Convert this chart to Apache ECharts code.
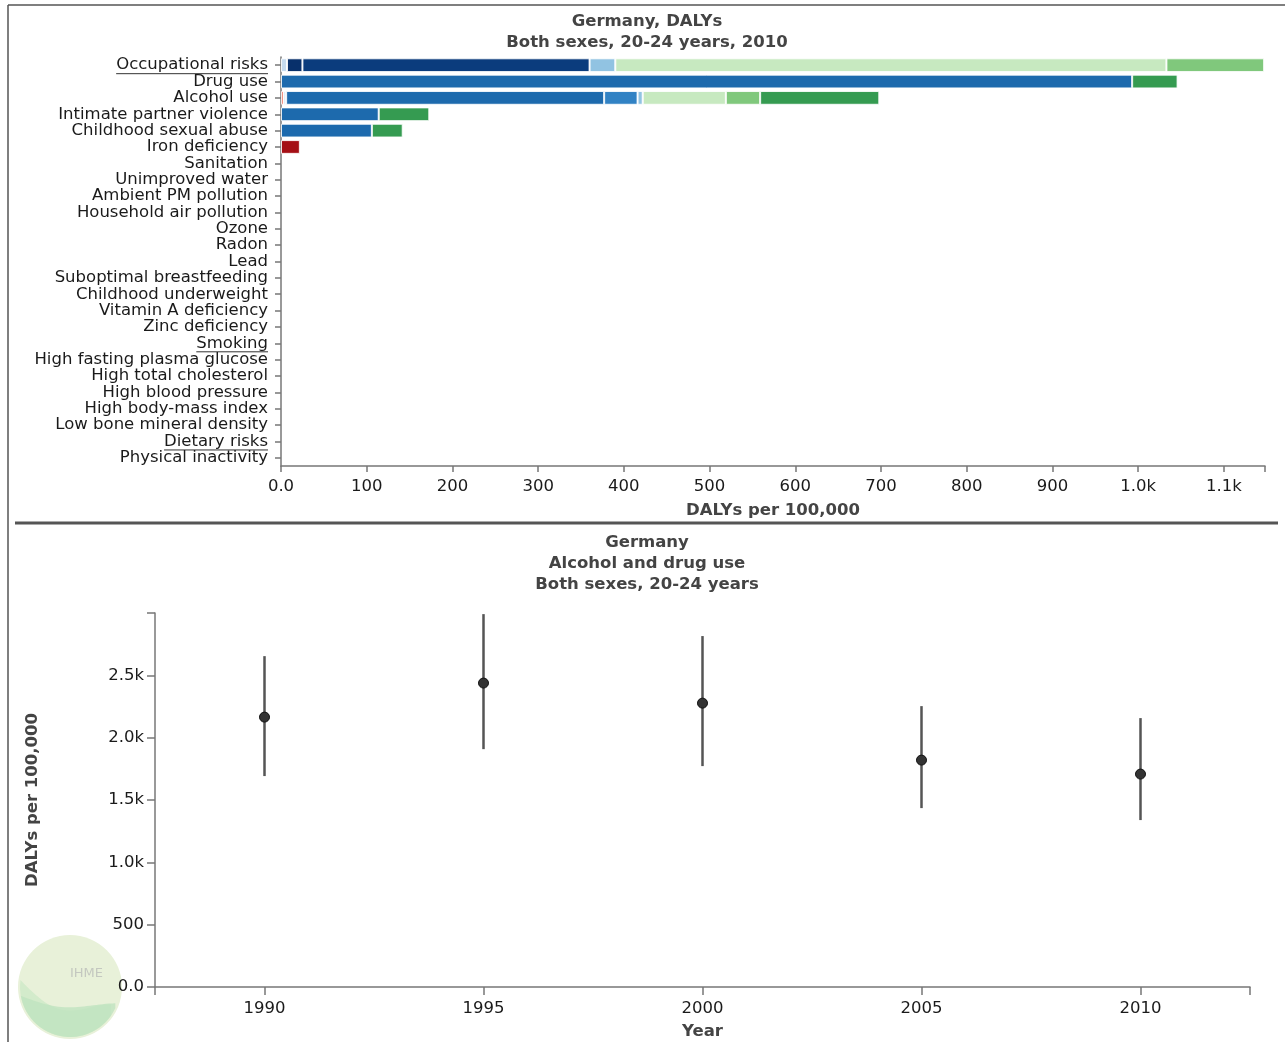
<!DOCTYPE html>
<html><head><meta charset="utf-8">
<script src="https://cdn.jsdelivr.net/npm/echarts@6/dist/echarts.min.js"></script>
<style>html,body{margin:0;padding:0;background:#fff}#c{width:1285px;height:1042px}</style>
</head><body><div id="c"></div>
<script>
// ---- data ----
const categories = ["Occupational risks","Drug use","Alcohol use","Intimate partner violence","Childhood sexual abuse","Iron deficiency","Sanitation","Unimproved water","Ambient PM pollution","Household air pollution","Ozone","Radon","Lead","Suboptimal breastfeeding","Childhood underweight","Vitamin A deficiency","Zinc deficiency","Smoking","High fasting plasma glucose","High total cholesterol","High blood pressure","High body-mass index","Low bone mineral density","Dietary risks","Physical inactivity"];
const underlined = ["Occupational risks","Smoking","Dietary risks"];
const occupationalSegs = [7, 18, 335, 30, 643, 114];
const drugSegs = [993, 53];
const alcoholSegs = [3, 3, 371, 39, 6, 97, 40, 139];
const ipvSegs = [114, 59];
const csaSegs = [106, 36];
const ironSegs = [22];
const xTickMax = 1148;

const years = [1990, 1995, 2000, 2005, 2010];
const meanVals = [2165, 2438, 2277, 1820, 1708];
const lowerVals = [1692, 1908, 1772, 1435, 1339];
const upperVals = [2654, 2991, 2815, 2253, 2157];

// ---- styles ----
const occColors = ["#c6dbef","#08306b","#0b3c7d","#91c3e2","#c7e9c0","#80c87c"];
const drugColors = ["#1d6aad","#359b51"];
const alcColors = ["#e8543f","#c6dbef","#1d6aad","#3182c4","#91c3e2","#c7e9c0","#80c87c","#359b51"];
const ipvColors = ["#1d6aad","#359b51"];
const csaColors = ["#1d6aad","#359b51"];
const ironColors = ["#a50f15"];

const segsByCat = {};
segsByCat["Occupational risks"] = [occupationalSegs, occColors];
segsByCat["Drug use"] = [drugSegs, drugColors];
segsByCat["Alcohol use"] = [alcoholSegs, alcColors];
segsByCat["Intimate partner violence"] = [ipvSegs, ipvColors];
segsByCat["Childhood sexual abuse"] = [csaSegs, csaColors];
segsByCat["Iron deficiency"] = [ironSegs, ironColors];

const FONT = "DejaVu Sans";
const FS = 16.5;
const axisColor = "#777";
const textColor = "#1a1a1a";

let maxSegs = 0;
Object.values(segsByCat).forEach(v => { maxSegs = Math.max(maxSegs, v[0].length); });

const barSeries = [];
for (let j = 0; j < maxSegs; j++) {
  barSeries.push({
    type: 'bar', xAxisIndex: 0, yAxisIndex: 0, stack: 'total',
    barCategoryGap: '16%',
    silent: true,
    data: categories.map(c => {
      const s = segsByCat[c];
      if (!s || j >= s[0].length) return null;
      return { value: s[0][j], itemStyle: { color: s[1][j], borderColor: 'rgba(255,255,255,0.85)', borderWidth: 1 } };
    })
  });
}

function fmtK(v) {
  if (v === 0) return '0.0';
  if (v >= 1000) return (v / 1000).toFixed(1) + 'k';
  return String(v);
}

// logo shapes (decoration)
function logoWave(cx, cy, r, amp, aStart, aEnd) {
  const pts = [];
  const a0 = Math.PI * aStart / 180, a1 = Math.PI * aEnd / 180;
  const p0 = [cx + r * Math.cos(a0), cy + r * Math.sin(a0)];
  const p1 = [cx + r * Math.cos(a1), cy + r * Math.sin(a1)];
  const n = 30;
  for (let i = 0; i <= n; i++) {
    const t = i / n;
    const x = p0[0] + (p1[0] - p0[0]) * t;
    const y = p0[1] + (p1[1] - p0[1]) * t + amp * Math.sin(Math.PI * t * 1.3);
    pts.push([x, y]);
  }
  for (let i = 0; i <= n; i++) {
    const a = a1 + (a0 + 2 * Math.PI * (a0 < a1 ? 1 : 0) - a1) * (i / n);
    pts.push([cx + r * Math.cos(a), cy + r * Math.sin(a)]);
  }
  return pts;
}

const chart = echarts.init(document.getElementById('c'), null, { renderer: 'canvas' });

const option = {
  animation: false,
  textStyle: { fontFamily: FONT },
  title: [
    { text: "Germany, DALYs\nBoth sexes, 20-24 years, 2010", left: 642, top: 6, textAlign: 'center',
      textStyle: { fontFamily: FONT, fontSize: FS, fontWeight: 'bold', color: '#444', lineHeight: 21 } },
    { text: "Germany\nAlcohol and drug use\nBoth sexes, 20-24 years", left: 642, top: 527, textAlign: 'center',
      textStyle: { fontFamily: FONT, fontSize: FS, fontWeight: 'bold', color: '#444', lineHeight: 21 } }
  ],
  grid: [
    { left: 281, top: 57, width: 984, height: 409 },
    { left: 155, top: 613, width: 1095, height: 374 }
  ],
  xAxis: [
    { type: 'value', gridIndex: 0, min: 0, max: xTickMax, interval: 100,
      splitLine: { show: false },
      axisLine: { show: true, lineStyle: { color: axisColor, width: 1.5 } },
      axisTick: { show: true, length: 6, lineStyle: { color: axisColor, width: 1.5 } },
      axisLabel: { fontFamily: FONT, fontSize: FS, color: textColor, margin: 12, showMaxLabel: true,
        formatter: v => (v % 100 === 0 ? fmtK(v) : '') },
      name: 'DALYs per 100,000', nameLocation: 'middle', nameGap: 36,
      nameTextStyle: { fontFamily: FONT, fontSize: FS, fontWeight: 'bold', color: '#444' } },
    { type: 'value', gridIndex: 1, min: 1987.5, max: 2012.5,
      splitLine: { show: false },
      axisLine: { show: true, lineStyle: { color: axisColor, width: 1.5 } },
      axisTick: { show: true, length: 8, lineStyle: { color: axisColor, width: 1.5 },
        customValues: [1987.5].concat(years).concat([2012.5]) },
      axisLabel: { fontFamily: FONT, fontSize: FS, color: textColor, margin: 13,
        customValues: years, formatter: v => String(v) },
      name: 'Year', nameLocation: 'middle', nameGap: 36,
      nameTextStyle: { fontFamily: FONT, fontSize: FS, fontWeight: 'bold', color: '#444' } }
  ],
  yAxis: [
    { type: 'category', gridIndex: 0, data: categories, inverse: true,
      axisLine: { show: true, lineStyle: { color: axisColor, width: 1.5 } },
      axisTick: { show: true, alignWithLabel: true, length: 6, lineStyle: { color: axisColor, width: 1.5 } },
      axisLabel: { fontFamily: FONT, fontSize: FS, color: textColor, margin: 13, interval: 0 },
      splitLine: { show: false } },
    { type: 'value', gridIndex: 1, min: 0, max: 3000, interval: 500,
      splitLine: { show: false },
      axisLine: { show: true, lineStyle: { color: axisColor, width: 1.5 } },
      axisTick: { show: true, length: 8, lineStyle: { color: axisColor, width: 1.5 } },
      axisLabel: { fontFamily: FONT, fontSize: FS, color: textColor, margin: 11, showMaxLabel: true,
        formatter: v => (v >= 3000 ? '' : fmtK(v)) },
      name: 'DALYs per 100,000', nameLocation: 'middle', nameGap: 114, nameRotate: 90,
      nameTextStyle: { fontFamily: FONT, fontSize: FS, fontWeight: 'bold', color: '#444' } }
  ],
  series: barSeries.concat([
    { type: 'custom', xAxisIndex: 1, yAxisIndex: 1, silent: true,
      data: years.map((y, i) => [y, lowerVals[i], upperVals[i]]),
      renderItem: function (params, api) {
        const p1 = api.coord([api.value(0), api.value(1)]);
        const p2 = api.coord([api.value(0), api.value(2)]);
        return { type: 'line', shape: { x1: p1[0], y1: p1[1], x2: p2[0], y2: p2[1] },
          style: { stroke: '#555', lineWidth: 2.5 } };
      } },
    { type: 'scatter', xAxisIndex: 1, yAxisIndex: 1, silent: true, symbol: 'circle', symbolSize: 10,
      itemStyle: { color: '#333', borderColor: '#111', borderWidth: 1, opacity: 1 },
      data: years.map((y, i) => [y, meanVals[i]]), z: 5 }
  ]),
  graphic: [
    { type: 'line', shape: { x1: 8, y1: 5, x2: 8, y2: 1042 }, style: { stroke: '#555', lineWidth: 1.5 } },
    { type: 'line', shape: { x1: 8, y1: 5, x2: 1285, y2: 5 }, style: { stroke: '#555', lineWidth: 1.5 } },
    { type: 'line', shape: { x1: 15, y1: 523, x2: 1278, y2: 523 }, style: { stroke: '#555', lineWidth: 3 } },
    { type: 'circle', shape: { cx: 70, cy: 987, r: 52 }, style: { fill: '#e8f1d9' }, z: -5 },
    { type: 'polygon', shape: { points: logoWave(70, 987, 50, 14, 188, 35) }, style: { fill: '#d3ebcb' }, z: -4 },
    { type: 'polygon', shape: { points: logoWave(70, 987, 50, 6, 170, 25) }, style: { fill: '#bfe3bf', opacity: 0.8 }, z: -3 },
    { type: 'text', x: 70, y: 967, style: { text: 'IHME', fill: '#c4c8c0', font: '13px "' + FONT + '"' }, z: -2 }
  ]
};
chart.setOption(option);

// underline selected category labels
(function () {
  const ctx = document.createElement('canvas').getContext('2d');
  ctx.font = FS + 'px "' + FONT + '"';
  const extra = [];
  underlined.forEach(name => {
    const y = chart.convertToPixel({ yAxisIndex: 0 }, name);
    const xRight = chart.convertToPixel({ xAxisIndex: 0 }, 0) - 13;
    const w = ctx.measureText(name).width;
    extra.push({ type: 'line', shape: { x1: xRight - w, y1: y + 8.5, x2: xRight, y2: y + 8.5 },
      style: { stroke: '#333', lineWidth: 1 } });
  });
  chart.setOption({ graphic: option.graphic.concat(extra) });
})();
</script>
</body></html>
